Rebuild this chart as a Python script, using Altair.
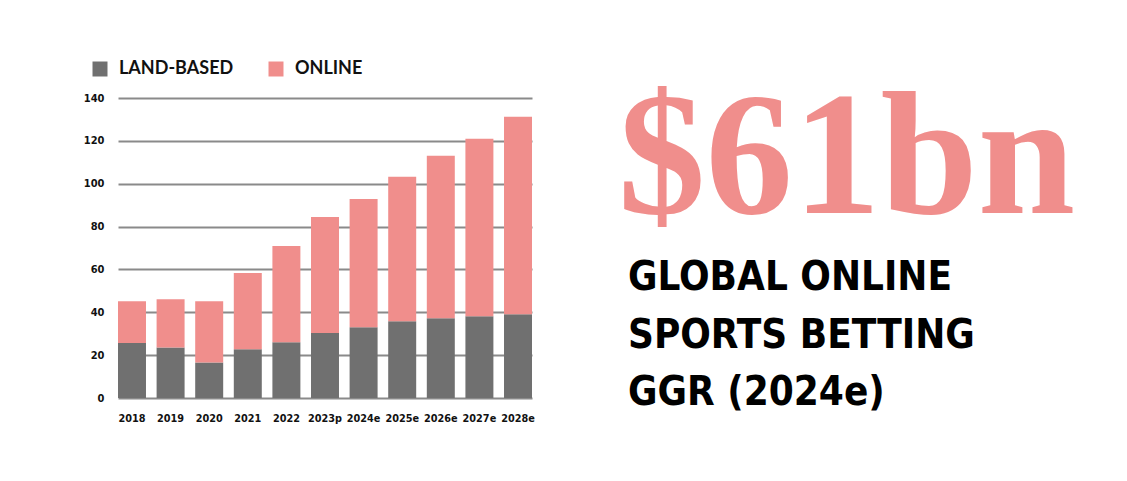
import altair as alt
import pandas as pd

years = ["2018", "2019", "2020", "2021", "2022", "2023p", "2024e", "2025e", "2026e", "2027e", "2028e"]
land_based = [25.7, 23.6, 16.6, 22.7, 26.0, 30.3, 33.0, 35.8, 37.2, 38.1, 39.1]
online = [19.5, 22.5, 28.6, 35.6, 44.9, 54.2, 59.9, 67.4, 75.9, 82.9, 92.2]
series = ["LAND-BASED", "ONLINE"]
colors = ["#707070", "#f08e8c"]
y_ticks = [0, 20, 40, 60, 80, 100, 120, 140]
headline = "$61bn"
subtitle_lines = ["GLOBAL ONLINE", "SPORTS BETTING", "GGR (2024e)"]

rows = []
for i, yr in enumerate(years):
    rows.append({"year": yr, "series": series[0], "value": land_based[i], "order": 0})
    rows.append({"year": yr, "series": series[1], "value": online[i], "order": 1})
df = pd.DataFrame(rows)

tick_font = "DejaVu Sans Condensed"

bars = alt.Chart(df).mark_bar().encode(
    x=alt.X(
        "year:N",
        sort=years,
        scale=alt.Scale(paddingInner=0.275, paddingOuter=0),
        axis=alt.Axis(
            title=None, labelAngle=0, ticks=False, domain=False,
            labelFont=tick_font, labelFontWeight="bold", labelFontSize=10.8,
            labelColor="#111111", labelPadding=14,
        ),
    ),
    y=alt.Y(
        "value:Q",
        stack="zero",
        scale=alt.Scale(domain=[0, 140], nice=False),
        axis=alt.Axis(
            title=None, values=y_ticks, ticks=False, domain=False,
            gridColor="#8a8a8a", gridWidth=2, gridOpacity=1,
            labelFont=tick_font, labelFontWeight="bold", labelFontSize=11,
            labelColor="#111111", labelPadding=14,
        ),
    ),
    color=alt.Color(
        "series:N",
        scale=alt.Scale(domain=series, range=colors),
        legend=alt.Legend(
            title=None, orient="none", legendX=-27, legendY=-38,
            direction="horizontal", symbolType="square", symbolSize=225,
            symbolStrokeWidth=0, symbolOpacity=1,
            labelFont="Lato", labelFontSize=18, labelFontWeight="bold",
            labelColor="#111111", columnPadding=33, labelOffset=10,
        ),
    ),
    order=alt.Order("order:Q"),
)

head = alt.Chart(pd.DataFrame({"t": [headline]})).mark_text(
    align="left", baseline="alphabetic", font="Liberation Serif",
    fontWeight=900, fontSize=175, color=colors[1],
).encode(x=alt.value(500), y=alt.value(115), text="t:N")

sub = alt.Chart(pd.DataFrame({"t": ["\n".join(subtitle_lines)]})).mark_text(
    align="left", baseline="alphabetic", font="DejaVu Sans Condensed",
    fontWeight="bold", fontSize=40, lineBreak="\n", lineHeight=57.5, color="#000000",
).encode(x=alt.value(510), y=alt.value(192), text="t:N")

chart = alt.layer(bars, head, sub).properties(
    width=414, height=300,
    padding={"left": 110, "top": 90, "right": 587, "bottom": 75},
    autosize=alt.AutoSizeParams(type="none"),
    background="white",
).configure_view(stroke=None)

chart.save("out.html", embed_options={"renderer": "svg", "actions": False})
